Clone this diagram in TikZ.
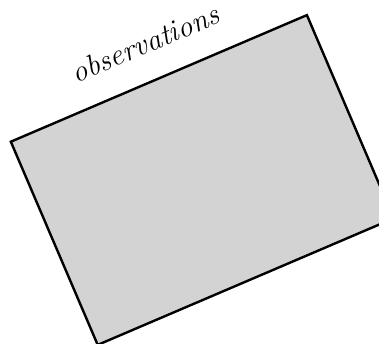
\documentclass[tikz,border=0pt]{standalone}
\definecolor{obsgray}{HTML}{D3D3D3}
\tikzset{
  obsbox/.style={draw=black, line width=2.4pt, fill=obsgray, rectangle, inner sep=0pt,
    minimum width=322pt, minimum height=221pt, rotate=23.15},
  obslabel/.style={font=\itshape\fontsize{30}{36}\selectfont, rotate=23.15, anchor=base, inner sep=0pt}
}
\begin{document}
\begin{tikzpicture}[x=1pt,y=-1pt]
\useasboundingbox (0,0) rectangle (379,343);
\clip (0,0) rectangle (379,343);
\node[obsbox] (obs) at (202.3,180) {};
\node[obslabel] (lbl) at (149,53) {observations};
\end{tikzpicture}
\end{document}
